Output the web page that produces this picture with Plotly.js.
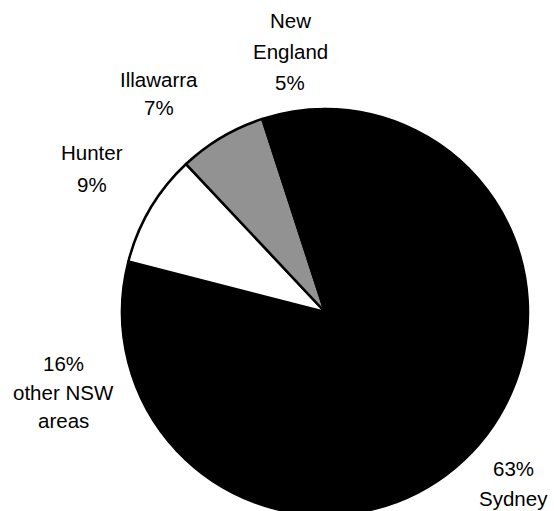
<!DOCTYPE html>
<html>
<head>
<meta charset="utf-8">
<script src="https://cdn.plot.ly/plotly-3.0.1.min.js"></script>
<style>
  html, body { margin: 0; padding: 0; background: #ffffff; overflow: hidden; }
  #chart { width: 554px; height: 560px; }
</style>
</head>
<body>
<div id="chart"></div>
<script>
// Share of NSW total by region
const regions = ["Sydney", "other NSW areas", "Hunter", "Illawarra", "New England"];
const shares = [63, 16, 9, 7, 5];
const sliceColors = ["#000000", "#000000", "#ffffff", "#929292", "#000000"];

// How each region's label is broken into lines, and whether the percentage comes first
const nameLines = [["Sydney"], ["other NSW", "areas"], ["Hunter"], ["Illawarra"], ["New", "England"]];
const percentFirst = [true, true, false, false, false];

// Label placement (pixel centre x, pixel centre y of each line, from the top-left)
const W = 554, H = 560;
const labelX = [513, 63, 92, 159, 290];
const labelY = [[468, 498], [363, 392, 420], [153, 185], [80, 108], [21, 51, 82]];

// Pie centre and radius in pixels
const cx = 325, cy = 312, r = 203;

const annotations = [];
regions.forEach((name, i) => {
  const pct = shares[i] + "%";
  const lines = percentFirst[i] ? [pct].concat(nameLines[i]) : nameLines[i].concat([pct]);
  lines.forEach((txt, j) => {
    annotations.push({
      text: txt,
      xref: "paper", yref: "paper",
      x: labelX[i] / W,
      y: 1 - labelY[i][j] / H,
      xanchor: "center", yanchor: "middle",
      showarrow: false,
      font: { family: "Liberation Sans, Arial, sans-serif", size: 20.5, color: "#000000" }
    });
  });
});

const trace = {
  type: "pie",
  labels: regions,
  values: shares,
  sort: false,
  direction: "clockwise",
  rotation: 0,
  textinfo: "none",
  hoverinfo: "label+percent",
  marker: {
    colors: sliceColors,
    line: { color: "#000000", width: 2.5 }
  },
  domain: {
    x: [(cx - r) / W, (cx + r) / W],
    y: [1 - (cy + r) / H, 1 - (cy - r) / H]
  }
};

const layout = {
  width: W,
  height: H,
  margin: { l: 0, r: 0, t: 0, b: 0 },
  paper_bgcolor: "#ffffff",
  showlegend: false,
  annotations: annotations
};

Plotly.newPlot("chart", [trace], layout, { staticPlot: true, displayModeBar: false });
</script>
</body>
</html>
